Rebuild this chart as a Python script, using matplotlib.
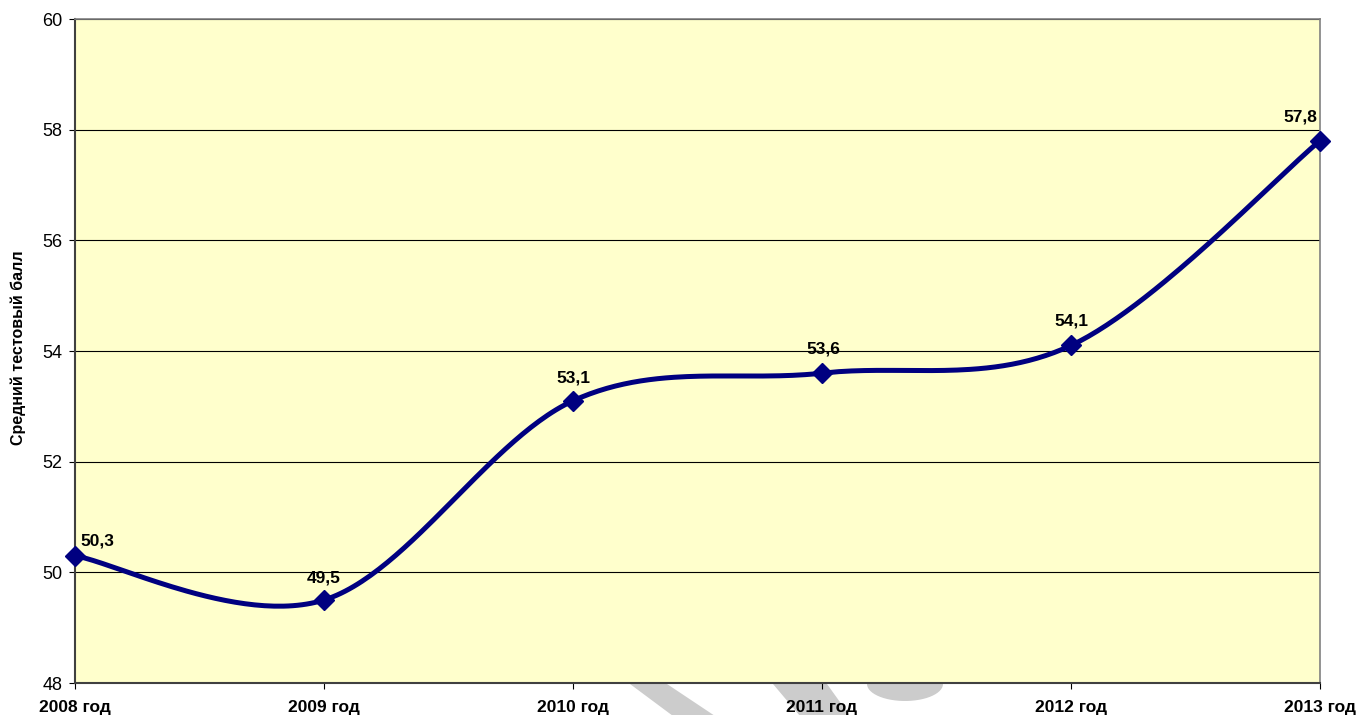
import numpy as np
import matplotlib.pyplot as plt
from matplotlib.patches import Polygon

plt.rcParams['font.family'] = ['Liberation Sans', 'DejaVu Sans']

years = ['2008 год', '2009 год', '2010 год', '2011 год', '2012 год', '2013 год']
scores = [50.3, 49.5, 53.1, 53.6, 54.1, 57.8]
labels = ['50,3', '49,5', '53,1', '53,6', '54,1', '57,8']

W, H = 1359, 715


def smooth(xs, ys, n=60):
    # Catmull-Rom style bezier through the points, ends duplicated
    p = np.column_stack([xs, ys]).astype(float)
    p = np.vstack([p[0], p, p[-1]])
    out = []
    for i in range(1, len(p) - 2):
        a, b = p[i], p[i + 1]
        c1 = a + (p[i + 1] - p[i - 1]) / 6
        c2 = b - (p[i + 2] - p[i]) / 6
        t = np.linspace(0, 1, n)[:, None]
        seg = (1 - t) ** 3 * a + 3 * t * (1 - t) ** 2 * c1 + 3 * t ** 2 * (1 - t) * c2 + t ** 3 * b
        out.append(seg if i == 1 else seg[1:])
    out = np.vstack(out)
    return out[:, 0], out[:, 1]


def px(points):
    return [(x / W, 1 - y / H) for x, y in points]


fig = plt.figure(figsize=(W / 100, H / 100), dpi=100)

# faint grey strokes peeking out under the plot area
shapes = [
    [(630, 684), (667, 684), (715, 716), (673, 716)],
    [(773, 684), (827, 684), (850, 716), (800, 716)],
]
ang = np.linspace(np.pi, 2 * np.pi, 30)
shapes.append(list(zip(905 + 38 * np.cos(ang), 684 - 17 * np.sin(ang))))
for s in shapes:
    fig.add_artist(Polygon(px(s), closed=True, facecolor='#cccccc', edgecolor='none', zorder=0))

ax = fig.add_axes([75 / W, 1 - 683 / H, 1245 / W, 664 / H])
ax.set_facecolor('#ffffcc')

x = np.arange(len(years))
sx, sy = smooth(x, scores)
ax.plot(sx, sy, color='#000080', lw=3.6, zorder=3, clip_on=False)
ax.plot(x, scores, linestyle='none', marker='D', markersize=10, color='#000080', zorder=4, clip_on=False)

offsets = [(22, 15), (0, 22), (0, 23), (1, 24), (0, 24), (-20, 24)]
for xi, yi, lab, (dx, dy) in zip(x, scores, labels, offsets):
    ax.annotate(lab, (xi, yi), xytext=(dx * 0.72, dy * 0.72), textcoords='offset points',
                ha='center', va='center', fontsize=12.5, fontweight='bold')

ax.set_xlim(0, len(years) - 1)
ax.set_ylim(48, 60)
ax.set_yticks(np.arange(48, 61, 2))
ax.set_xticks(x)
ax.set_xticklabels(years, fontweight='bold')
ax.tick_params(axis='y', labelsize=13, length=4, pad=5, colors='black')
ax.tick_params(axis='x', labelsize=12.5, length=4, pad=8)
ax.grid(axis='y', color='black', lw=0.8)
ax.set_axisbelow(True)

for side in ('left', 'bottom'):
    ax.spines[side].set_color('#404040')
    ax.spines[side].set_linewidth(1.5)
for side in ('top', 'right'):
    ax.spines[side].set_color('#808080')
    ax.spines[side].set_linewidth(1.2)

fig.text(18 / W, 1 - 348 / H, 'Средний тестовый балл', rotation=90, ha='center', va='center',
         fontsize=11.5, fontweight='bold')

fig.savefig('out.png', dpi=100)
